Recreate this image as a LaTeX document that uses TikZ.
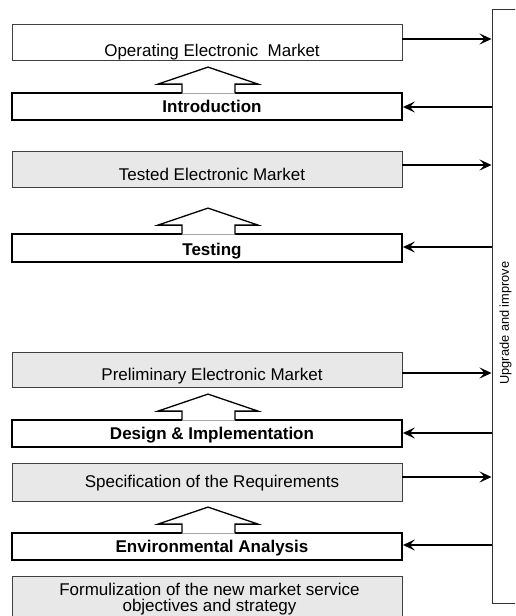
\documentclass[tikz,border=0pt]{standalone}
\usepackage{fontspec}
\setmainfont{Liberation Sans}
\usetikzlibrary{arrows.meta}
\begin{document}
\begin{tikzpicture}[x=1pt,y=-1pt,
  box/.style={rectangle, minimum width=390pt, inner sep=0pt,
    font=\fontsize{17}{16}\selectfont, execute at begin node={\hspace*{10pt}}},
  result/.style={box, draw=black!75, line width=0.8pt, fill=gray!18},
  resultw/.style={result, fill=white},
  phase/.style={box, draw=black, line width=1.8pt, fill=white,
    font=\fontsize{17}{16}\selectfont\bfseries},
  conn/.style={line width=1.9pt, -{Stealth[length=12pt,width=11pt,inset=5pt]}},
  blockup/.pic={
    \fill[white] (-26,1.6) -- (-26,-8) -- (-50,-8) -- (0,-25) -- (50,-8) -- (27,-8) -- (27,1.6) -- cycle;
    \draw[line width=1.3pt, line join=miter] (-26,0.9) -- (-26,-8) -- (-50,-8) -- (0,-25) -- (50,-8) -- (27,-8) -- (27,0.9);
  }]
\useasboundingbox (0,0) rectangle (515,616);
\clip (0,0) rectangle (515,616);
\fill[white] (0,0) rectangle (515,616);

% right box
\node[draw=black!80, line width=0.9pt, minimum width=48pt, minimum height=594pt, inner sep=0pt] (upg) at (516,306) {};
\node[rotate=90, font=\fontsize{12.8}{15}\selectfont] (upglbl) at (505.5,323) {Upgrade and improve};

% stage boxes
\node[resultw, text height=32.7pt, text depth=3.3pt] (op) at (207,42) {Operating Electronic\ \ Market};
\node[phase, text height=19.7pt, text depth=7.3pt] (intro) at (207,106.5) {Introduction};
\node[result, text height=29pt, text depth=7pt] (tested) at (207,169) {Tested Electronic Market};
\node[phase, text height=21pt, text depth=7pt] (testing) at (207,248) {Testing};
\node[result, text height=28.7pt, text depth=6.3pt] (prelim) at (207,369.5) {Preliminary Electronic Market};
\node[phase, text height=19.3pt, text depth=7.7pt] (design) at (207,433.5) {Design \& Implementation};
\node[result, text height=24.7pt, text depth=13.3pt] (spec) at (207,482) {Specification of the Requirements};
\node[phase, text height=19.7pt, text depth=7.3pt] (env) at (207,546.5) {Environmental Analysis};
\node[result, minimum height=60pt, anchor=north] (form) at (207,576) {};
\node[align=center, inner sep=0pt, font=\fontsize{17}{16}\selectfont] (formlbl) at (209.5,599.5) {Formulization of the new market service\\objectives and strategy};

% block arrows
\pic at ([xshift=1pt]intro.north) {blockup};
\pic at ([xshift=1pt]testing.north) {blockup};
\pic at ([xshift=1pt]design.north) {blockup};
\pic at ([xshift=1pt]env.north) {blockup};

% connectors
\draw[conn] ([yshift=3pt]op.east) -- ([yshift=3pt]op.east -| upg.west);
\draw[conn] ([yshift=4pt]tested.east) -- ([yshift=4pt]tested.east -| upg.west);
\draw[conn] ([yshift=-3.5pt]prelim.east) -- ([yshift=-3.5pt]prelim.east -| upg.west);
\draw[conn] ([yshift=5pt]spec.east) -- ([yshift=5pt]spec.east -| upg.west);
\draw[conn] ([yshift=-0.5pt]intro.east -| upg.west) -- ([yshift=-0.5pt]intro.east);
\draw[conn] ([yshift=1pt]testing.east -| upg.west) -- ([yshift=1pt]testing.east);
\draw[conn] ([yshift=0.5pt]design.east -| upg.west) -- ([yshift=0.5pt]design.east);
\draw[conn] ([yshift=1.5pt]env.east -| upg.west) -- ([yshift=1.5pt]env.east);
\end{tikzpicture}
\end{document}
